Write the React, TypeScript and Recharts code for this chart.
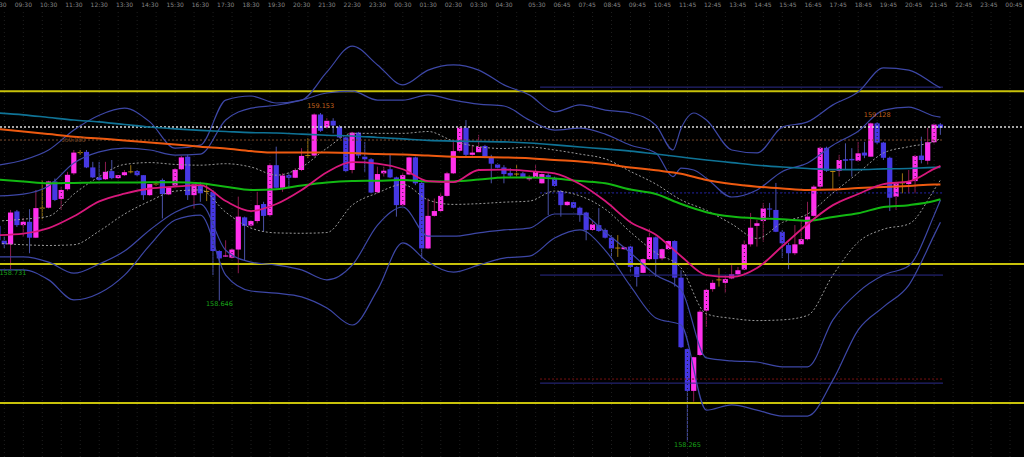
import React from 'react';
import { ComposedChart, XAxis, YAxis, Bar, Line, ReferenceLine, ReferenceDot } from 'recharts';

const opens = [158.848,158.808,158.798,158.887,158.850,158.859,158.816,158.896,158.897,158.968,158.921,158.947,158.990,159.046,159.048,159.006,158.979,158.974,158.996,158.977,158.985,158.994,158.996,158.985,158.931,158.961,158.972,158.933,158.957,159.001,159.035,158.931,158.958,158.941,158.940,158.780,158.765,158.762,158.784,158.871,158.849,158.861,158.907,158.877,159.012,158.951,158.985,158.978,158.999,159.038,159.038,159.149,159.114,159.132,159.116,159.087,158.999,159.100,159.035,159.028,158.939,158.990,159.001,158.979,158.904,158.987,159.033,158.964,158.787,158.875,158.888,158.929,158.990,159.051,159.113,159.040,159.047,159.064,159.032,159.014,159.006,158.991,158.988,158.990,158.974,158.979,158.963,158.985,158.978,158.942,158.904,158.912,158.897,158.884,158.837,158.850,158.837,158.816,158.788,158.785,158.792,158.737,158.721,158.758,158.817,158.760,158.785,158.807,158.708,158.515,158.402,158.499,158.619,158.677,158.702,158.694,158.706,158.717,158.730,158.798,158.848,158.861,158.895,158.891,158.832,158.796,158.774,158.798,158.812,158.875,158.954,159.059,158.995,158.997,159.028,159.029,159.024,159.046,159.035,159.125,159.073,159.032,158.927,158.964,158.961,158.969,159.038,159.024,159.074,159.122];
const highs = [158.859,158.819,158.891,158.891,158.869,158.893,158.945,158.972,158.970,158.976,158.954,158.994,159.053,159.053,159.053,159.021,159.021,159.021,159.026,158.985,158.999,159.012,158.999,158.985,158.961,158.966,158.976,158.954,159.004,159.037,159.040,158.964,158.967,158.964,158.945,158.782,158.809,158.787,158.927,158.873,158.864,158.940,158.913,159.017,159.062,158.990,158.990,159.004,159.058,159.085,159.152,159.153,159.139,159.139,159.120,159.089,159.102,159.102,159.075,159.031,159.008,159.008,159.040,158.981,158.990,159.035,159.035,158.967,158.922,158.922,158.936,158.994,159.080,159.116,159.134,159.067,159.094,159.067,159.040,159.017,159.012,159.004,159.012,158.994,158.985,159.012,158.990,158.990,158.981,158.945,158.915,158.913,158.900,158.886,158.864,158.896,158.841,158.823,158.823,158.792,158.794,158.739,158.760,158.842,158.819,158.787,158.809,158.809,158.728,158.518,158.494,158.621,158.678,158.702,158.734,158.715,158.742,158.737,158.809,158.883,158.864,158.910,158.910,158.964,158.837,158.802,158.850,158.864,158.913,158.958,159.062,159.062,158.997,159.040,159.071,159.058,159.075,159.075,159.127,159.128,159.075,159.035,158.967,158.990,158.999,159.040,159.089,159.113,159.125,159.126];
const lows = [158.798,158.788,158.731,158.845,158.818,158.774,158.815,158.866,158.895,158.915,158.891,158.943,158.986,159.040,159.004,158.977,158.970,158.972,158.974,158.975,158.983,158.990,158.983,158.918,158.929,158.956,158.868,158.931,158.954,158.999,158.918,158.895,158.913,158.915,158.715,158.646,158.764,158.760,158.720,158.755,158.846,158.855,158.832,158.873,158.949,158.940,158.949,158.977,158.996,159.031,159.035,159.102,159.111,159.098,159.085,158.994,158.990,159.031,158.994,158.936,158.936,158.981,158.977,158.873,158.902,158.985,158.958,158.760,158.785,158.873,158.886,158.927,158.988,159.048,159.035,159.038,159.045,159.031,158.963,159.004,158.963,158.980,158.977,158.977,158.969,158.977,158.962,158.877,158.954,158.873,158.902,158.895,158.859,158.809,158.835,158.832,158.814,158.760,158.764,158.783,158.724,158.684,158.720,158.755,158.710,158.755,158.783,158.684,158.518,158.265,158.373,158.496,158.575,158.670,158.684,158.666,158.704,158.715,158.728,158.792,158.792,158.805,158.872,158.831,158.761,158.731,158.769,158.796,158.809,158.873,158.951,158.994,158.945,158.981,158.999,158.981,159.021,159.031,159.035,159.069,159.026,158.888,158.891,158.936,158.936,158.936,159.017,159.014,159.071,159.094];
const closes = [158.809,158.798,158.884,158.850,158.859,158.816,158.896,158.896,158.968,158.918,158.945,158.986,159.046,159.046,159.006,158.979,158.972,158.994,158.977,158.985,158.993,158.994,158.985,158.931,158.961,158.961,158.934,158.952,159.001,159.033,158.931,158.960,158.936,158.941,158.780,158.760,158.768,158.784,158.873,158.848,158.861,158.904,158.875,159.012,158.951,158.984,158.978,158.999,159.037,159.038,159.149,159.105,159.132,159.119,159.087,158.996,159.100,159.038,159.028,158.938,158.988,158.997,158.979,158.904,158.985,159.033,158.963,158.787,158.875,158.888,158.929,158.990,159.050,159.113,159.040,159.046,159.061,159.035,159.016,159.005,158.988,158.984,158.988,158.979,158.978,158.994,158.988,158.979,158.956,158.904,158.913,158.897,158.877,158.837,158.852,158.834,158.816,158.787,158.788,158.790,158.737,158.710,158.758,158.817,158.758,158.785,158.807,158.708,158.520,158.402,158.493,158.616,158.675,158.694,158.702,158.704,158.717,158.728,158.798,158.843,158.855,158.895,158.892,158.832,158.801,158.774,158.798,158.812,158.873,158.954,159.059,158.997,158.995,159.026,159.024,159.025,159.044,159.038,159.125,159.073,159.032,158.924,158.963,158.964,158.967,159.037,159.026,159.074,159.122,159.113];

const lineIdx = [0,4,8,12,16,20,24,28,32,36,40,44,48,52,56,60,64,68,72,76,80,84,88,92,96,100,104,108,112,116,120,124,128,132,136,140,144,148,149];
const tealMA = [159.153,159.148,159.141,159.134,159.129,159.122,159.115,159.110,159.106,159.103,159.100,159.099,159.096,159.093,159.091,159.087,159.083,159.079,159.077,159.076,159.075,159.072,159.067,159.061,159.056,159.050,159.042,159.034,159.026,159.019,159.012,159.007,159.003,159.000,159.000,159.002,159.003,159.006,159.006];
const orangeMA = [159.110,159.103,159.096,159.089,159.084,159.079,159.073,159.068,159.062,159.057,159.050,159.046,159.046,159.046,159.045,159.042,159.041,159.038,159.035,159.034,159.033,159.031,159.026,159.022,159.015,159.006,158.998,158.989,158.972,158.961,158.954,158.949,158.945,158.946,158.950,158.953,158.956,158.960,158.960];
const greenMA = [158.973,158.968,158.963,158.964,158.965,158.965,158.966,158.966,158.963,158.954,158.945,158.947,158.957,158.965,158.969,158.970,158.972,158.968,158.968,158.973,158.979,158.979,158.976,158.969,158.963,158.946,158.934,158.907,158.885,158.873,158.868,158.866,158.862,158.872,158.882,158.899,158.904,158.915,158.920];
const bandMid = [158.823,158.827,158.842,158.874,158.914,158.935,158.949,158.954,158.958,158.915,158.888,158.907,158.945,158.993,159.020,159.016,159.001,158.969,158.966,158.999,159.000,158.996,158.990,158.961,158.915,158.858,158.824,158.766,158.715,158.710,158.734,158.793,158.853,158.904,158.934,158.961,158.968,159.002,159.010];
const band1Up = [158.861,158.866,158.874,158.934,158.981,159.014,159.019,159.014,159.012,159.016,159.007,158.985,159.007,159.058,159.098,159.098,159.098,159.103,159.077,159.062,159.057,159.061,159.053,159.042,159.029,158.995,158.961,158.918,158.890,158.853,158.814,158.857,158.880,158.937,158.991,159.045,159.062,159.076,159.084];
const band1Dn = [158.801,158.797,158.795,158.797,158.834,158.880,158.915,158.942,158.945,158.885,158.842,158.829,158.828,158.830,158.904,158.937,158.960,158.918,158.906,158.908,158.912,158.915,158.942,158.929,158.893,158.831,158.775,158.734,158.610,158.598,158.592,158.594,158.606,158.715,158.804,158.839,158.853,158.945,158.972];
const band2Dn = [158.764,158.764,158.750,158.720,158.745,158.780,158.837,158.885,158.907,158.782,158.750,158.742,158.729,158.702,158.742,158.850,158.899,158.820,158.820,158.829,158.837,158.842,158.880,158.880,158.831,158.775,158.715,158.675,158.491,158.483,158.480,158.467,158.467,158.594,158.669,158.715,158.740,158.877,158.918];
const band3Dn = [158.729,158.729,158.702,158.648,158.666,158.715,158.796,158.864,158.877,158.715,158.672,158.666,158.656,158.626,158.580,158.675,158.802,158.750,158.723,158.742,158.761,158.766,158.815,158.837,158.782,158.685,158.599,158.580,158.350,158.364,158.350,158.334,158.334,158.431,158.567,158.629,158.688,158.823,158.858];

const upperIdx = [0,4,8,12,16,20,24,28,32,36,40,44,48,52,56,60,64,68,72,76,80,84,88,92,96,100,104,106.7,108,110,112,116,120,124,128,132,136,140,144,148,149];
const band2Up = [158.929,158.934,158.956,159.018,159.048,159.058,159.053,159.039,159.042,159.134,159.166,159.174,159.188,159.207,159.212,159.188,159.188,159.202,159.188,159.177,159.172,159.134,159.107,159.112,159.096,159.066,159.045,158.981,159.004,158.999,158.977,158.926,158.945,158.995,159.018,159.066,159.104,159.161,159.169,159.145,159.142];
const band3Up = [159.012,159.026,159.053,159.107,159.147,159.166,159.129,159.058,159.066,159.188,159.199,159.180,159.188,159.264,159.334,159.283,159.229,159.269,159.283,159.269,159.229,159.202,159.156,159.175,159.161,159.153,159.120,159.053,159.112,159.153,159.134,159.053,159.045,159.115,159.129,159.175,159.210,159.275,159.269,159.231,159.221];

const timeLabels = ['08:30','09:30','10:30','11:30','12:30','13:30','14:30','15:30','16:30','17:30','18:30','19:30','20:30','21:30','22:30','23:30','00:30','01:30','02:30','03:30','04:30','05:30','06:45','07:45','08:45','09:45','10:45','11:45','12:45','13:45','14:45','15:45','16:45','17:45','18:45','19:45','20:45','21:45','22:45','23:45','00:45'];

const yellowLevels = [159.212, 158.745, 158.369];
const whiteLevel = 159.115;
const brownLevel = 159.080;
const blueLevels = [159.223, 158.715, 158.423];
const blueDashLevel = 158.937;
const redDashLevel = 158.434;

const X_DOMAIN: [number, number] = [0.3115, 162.21];
const Y_DOMAIN: [number, number] = [158.2233, 159.426];
const RIGHT_START = 85.7;
const RIGHT_END = 149.4;

const candleData = opens.map((o, i) => ({
  i,
  open: o,
  high: highs[i],
  low: lows[i],
  close: closes[i],
  range: [lows[i], highs[i]],
}));

const series = (vals: number[], idx: number[] = lineIdx) => idx.map((i, k) => ({ i, v: vals[k] }));

const tickPos = timeLabels.map((_, k) => (k < 21 ? k * 4 : 85.2 + (k - 21) * 3.97));
const tickLabelMap: Record<string, string> = {};
tickPos.forEach((p, k) => { tickLabelMap[p.toFixed(2)] = timeLabels[k]; });

const gridX: number[] = [];
for (let k = 1; k < 162; k += 3) gridX.push(k);

const Candle = (props: any) => {
  const { x, y, width, height, payload } = props;
  if (x == null || y == null || !payload) return null;
  const cx = x + width / 2;
  const { open, close, high, low } = payload;
  const span = high - low;
  const py = (p: number) => (span === 0 ? y : y + ((high - p) / span) * height);
  const yo = py(open);
  const yc = py(close);
  const bull = close > open;
  const bear = close < open;
  const bodyColor = bull ? '#ff30ec' : bear ? '#4638e4' : '#b8860b';
  const wickColor = bull ? '#8c1c50' : bear ? '#4a52a8' : '#9a7410';
  const top = Math.min(yo, yc);
  const h = Math.max(Math.abs(yc - yo), 1);
  return (
    <g>
      <line x1={cx} x2={cx} y1={y} y2={y + height} stroke={wickColor} strokeWidth={1} />
      {bull || bear ? (
        <rect x={cx - 2.6} y={top} width={5.2} height={h} fill={bodyColor} />
      ) : (
        <line x1={cx - 2.6} x2={cx + 2.6} y1={yo} y2={yo} stroke={bodyColor} strokeWidth={1} />
      )}
    </g>
  );
};

const TimeTick = (props: any) => {
  const { x, payload } = props;
  const label = tickLabelMap[Number(payload.value).toFixed(2)] || '';
  return (
    <text x={x} y={7} fontSize={6} fill="#858585" textAnchor="middle" fontFamily="DejaVu Sans">
      {label}
    </text>
  );
};

const fmt = (v: number) => v.toFixed(3);

export default function App() {
  const bandColor = '#3d47a6';
  return (
    <div style={{ position: 'fixed', left: 0, top: 0, width: 1024, height: 457, background: '#000', overflow: 'hidden' }}>
      <ComposedChart width={1024} height={457} data={candleData} margin={{ top: 0, right: 0, bottom: 0, left: 0 }}>
        <XAxis
          dataKey="i"
          type="number"
          orientation="top"
          height={12}
          domain={X_DOMAIN}
          allowDataOverflow
          ticks={tickPos}
          interval={0}
          tick={<TimeTick />}
          tickLine={false}
          axisLine={false}
        />
        <YAxis type="number" hide domain={Y_DOMAIN} allowDataOverflow />
        {gridX.map((g) => (
          <ReferenceLine key={'g' + g} x={g} stroke="#1f1f1f" strokeDasharray="1 3" strokeWidth={1} />
        ))}
        {yellowLevels.map((p) => (
          <ReferenceLine key={'y' + p} y={p} stroke="#c8c20a" strokeWidth={2} />
        ))}
        <ReferenceLine y={whiteLevel} stroke="#dcdcdc" strokeWidth={1.5} strokeDasharray="2 2" />
        <ReferenceLine
          segment={[{ x: X_DOMAIN[0], y: brownLevel }, { x: RIGHT_END, y: brownLevel }]}
          stroke="#7a4a2c"
          strokeWidth={1}
          strokeDasharray="2 2"
        />
        {blueLevels.map((p) => (
          <ReferenceLine
            key={'b' + p}
            segment={[{ x: RIGHT_START, y: p }, { x: RIGHT_END, y: p }]}
            stroke="#2c2c8c"
            strokeWidth={1}
          />
        ))}
        <ReferenceLine
          segment={[{ x: RIGHT_START, y: blueDashLevel }, { x: RIGHT_END, y: blueDashLevel }]}
          stroke="#2424a8"
          strokeWidth={1}
          strokeDasharray="2 2"
        />
        <ReferenceLine
          segment={[{ x: RIGHT_START, y: redDashLevel }, { x: RIGHT_END, y: redDashLevel }]}
          stroke="#7a1010"
          strokeWidth={1}
          strokeDasharray="2 2"
        />
        <Line data={series(band3Up, upperIdx)} dataKey="v" type="monotone" stroke={bandColor} strokeWidth={1.2} dot={false} isAnimationActive={false} />
        <Line data={series(band3Dn)} dataKey="v" type="monotone" stroke={bandColor} strokeWidth={1.2} dot={false} isAnimationActive={false} />
        <Line data={series(band2Up, upperIdx)} dataKey="v" type="monotone" stroke={bandColor} strokeWidth={1.2} dot={false} isAnimationActive={false} />
        <Line data={series(band2Dn)} dataKey="v" type="monotone" stroke={bandColor} strokeWidth={1.2} dot={false} isAnimationActive={false} />
        <Line data={series(band1Up)} dataKey="v" type="monotone" stroke="#9a9a9a" strokeWidth={1} strokeDasharray="2 2" dot={false} isAnimationActive={false} />
        <Line data={series(band1Dn)} dataKey="v" type="monotone" stroke="#9a9a9a" strokeWidth={1} strokeDasharray="2 2" dot={false} isAnimationActive={false} />
        <Line data={series(tealMA)} dataKey="v" type="monotone" stroke="#0f7396" strokeWidth={1.6} dot={false} isAnimationActive={false} />
        <Line data={series(orangeMA)} dataKey="v" type="monotone" stroke="#ee5a10" strokeWidth={2} dot={false} isAnimationActive={false} />
        <Line data={series(greenMA)} dataKey="v" type="monotone" stroke="#12b812" strokeWidth={2} dot={false} isAnimationActive={false} />
        <Line data={series(bandMid)} dataKey="v" type="monotone" stroke="#d8187c" strokeWidth={1.8} dot={false} isAnimationActive={false} />
        <Bar dataKey="range" barSize={5} shape={<Candle />} isAnimationActive={false} />
        <ReferenceDot x={51} y={highs[51]} r={0} fill="none" stroke="none"
          label={{ value: fmt(highs[51]), position: 'top', offset: 5, fill: '#c0621c', fontSize: 6.5, fontFamily: 'DejaVu Sans' }} />
        <ReferenceDot x={139} y={highs[139]} r={0} fill="none" stroke="none"
          label={{ value: fmt(highs[139]), position: 'top', offset: 5, fill: '#c0621c', fontSize: 6.5, fontFamily: 'DejaVu Sans' }} />
        <ReferenceDot x={2.35} y={lows[2]} r={0} fill="none" stroke="none"
          label={{ value: fmt(lows[2]), position: 'bottom', offset: 1, fill: '#18a018', fontSize: 6.5, fontFamily: 'DejaVu Sans' }} />
        <ReferenceDot x={35} y={lows[35]} r={0} fill="none" stroke="none"
          label={{ value: fmt(lows[35]), position: 'bottom', offset: 1, fill: '#18a018', fontSize: 6.5, fontFamily: 'DejaVu Sans' }} />
        <ReferenceDot x={109} y={lows[109]} r={0} fill="none" stroke="none"
          label={{ value: fmt(lows[109]), position: 'bottom', offset: 1, fill: '#18a018', fontSize: 6.5, fontFamily: 'DejaVu Sans' }} />
        <ReferenceDot x={11.9} y={brownLevel} r={0} fill="none" stroke="none"
          label={{ value: fmt(brownLevel), position: 'center', fill: '#6e4426', fontSize: 6, fontFamily: 'DejaVu Sans' }} />
      </ComposedChart>
    </div>
  );
}
